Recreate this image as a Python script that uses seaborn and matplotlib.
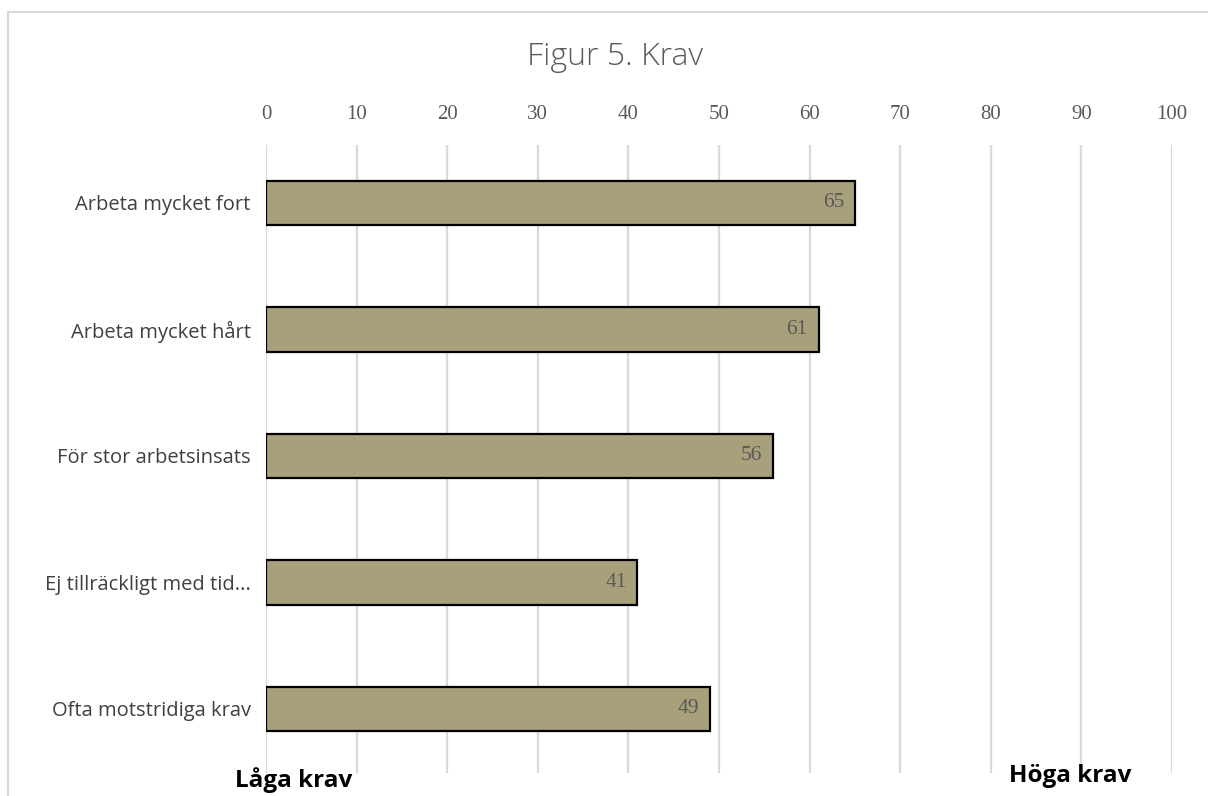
import matplotlib
matplotlib.use("Agg")
import matplotlib.pyplot as plt
import seaborn as sns
import pandas as pd

categories = ["Arbeta mycket fort", "Arbeta mycket hårt", "För stor arbetsinsats",
              "Ej tillräckligt med tid...", "Ofta motstridiga krav"]
values = [65, 61, 56, 41, 49]
ticks = [0, 10, 20, 30, 40, 50, 60, 70, 80, 90, 100]

df = pd.DataFrame({"kategori": categories, "varde": values})

sns.set_theme(style="white")
plt.rcParams['font.family'] = ['Open Sans', 'DejaVu Sans']

fig = plt.figure(figsize=(12.08, 7.96), dpi=100)
ax = fig.add_axes([0.2202, 0.0289, 0.75, 0.789])

sns.barplot(data=df, x="varde", y="kategori", color="#A89F7B", saturation=1,
            width=0.35, edgecolor="black", linewidth=1.6, ax=ax, zorder=3)

ax.set_xlim(0, 100)
ax.set_ylim(4.506, -0.4585)
ax.set_xticks(ticks)
ax.xaxis.tick_top()
ax.tick_params(axis="x", length=0, pad=15, labelsize=15, labelcolor="#595959")
ax.tick_params(axis="y", length=0, pad=11, labelsize=14.5, labelcolor="#404040")
for lab in ax.get_xticklabels():
    lab.set_fontfamily(["Liberation Serif", "DejaVu Serif"])
ax.grid(axis="x", color="#D9D9D9", linewidth=1.6, zorder=0)
ax.grid(axis="y", visible=False)
for s in ax.spines.values():
    s.set_visible(False)
ax.set_xlabel("")
ax.set_ylabel("")

for i, v in enumerate(values):
    ax.text(v - 1.2, i, str(v), ha="right", va="center", fontsize=15.5,
            color="#595959", family=["Liberation Serif", "DejaVu Serif"], zorder=4)

fig.text(0.509, 0.928, "Figur 5. Krav", ha="center", va="center", fontsize=23,
         color="#595959", fontweight="light")
fig.text(0.243, 0.02, "Låga krav", ha="center", va="center", fontsize=17.5,
         fontweight="bold", color="black")
fig.text(0.886, 0.025, "Höga krav", ha="center", va="center", fontsize=17.5,
         fontweight="bold", color="black")

border = plt.Rectangle((8 / 1208, -0.01), 1.02, 1 - 12 / 796 + 0.01, transform=fig.transFigure,
                       fill=False, edgecolor="#D9D9D9", linewidth=1.5, clip_on=False)
fig.patches.append(border)

fig.savefig("out.png", dpi=100)
